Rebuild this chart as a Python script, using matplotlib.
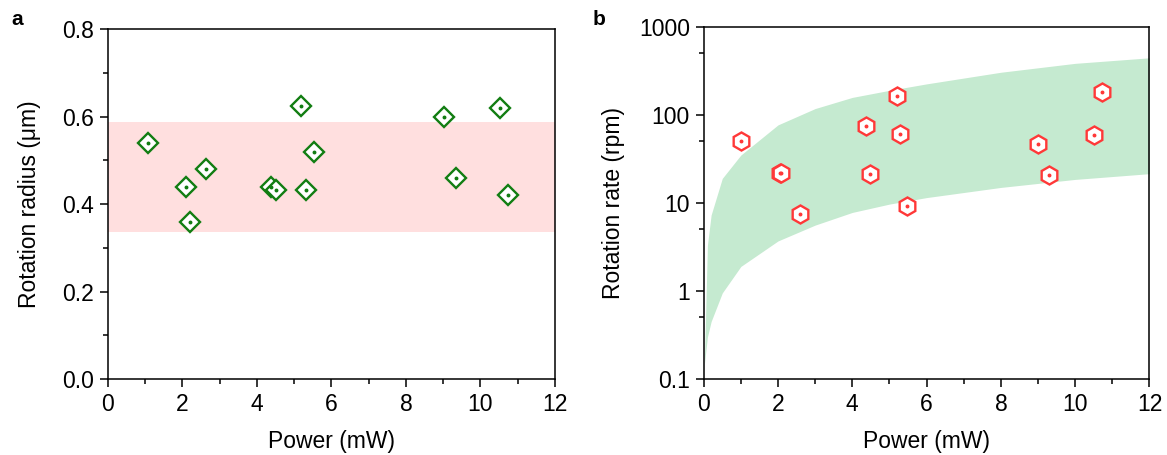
import matplotlib
matplotlib.use("Agg")
import matplotlib.pyplot as plt
from matplotlib.ticker import MultipleLocator, FixedLocator, NullFormatter

plt.rcParams['font.family'] = ['Liberation Sans', 'DejaVu Sans']
plt.rcParams['font.size'] = 16

# panel a data
power_a = [1.07, 2.09, 2.2, 2.63, 4.38, 4.51, 5.18, 5.32, 5.53, 9.02, 9.34, 10.52, 10.74]
radius = [0.54, 0.44, 0.36, 0.48, 0.44, 0.432, 0.625, 0.432, 0.52, 0.60, 0.46, 0.62, 0.42]
radius_band = [0.336, 0.588]

# panel b data
power_b = [1.0, 2.05, 2.09, 2.58, 4.36, 4.47, 5.19, 5.28, 5.48, 9.0, 9.3, 10.51, 10.72]
rate = [51, 22, 22, 7.5, 75, 21.5, 165, 60, 9.2, 47, 21, 59, 183]
band_x = [0.02, 0.1, 0.2, 0.5, 1, 2, 3, 4, 5, 6, 8, 10, 12]
band_hi = [0.16, 3.3, 7.3, 19, 35, 77, 118, 158, 190, 225, 305, 385, 445]
band_lo = [0.15, 0.3, 0.45, 0.95, 1.9, 3.7, 5.6, 7.8, 9.7, 11.5, 15, 18.5, 21.5]

green = '#127d12'
red = '#ff3838'
fs = 16.5

fig = plt.figure(figsize=(11.67, 4.55), dpi=100)
ax1 = fig.add_axes([0.0925, 0.167, 0.383, 0.769])
ax2 = fig.add_axes([0.603, 0.167, 0.382, 0.774])

for ax in (ax1, ax2):
    for s in ax.spines.values():
        s.set_linewidth(1.1)
    ax.tick_params(which='major', direction='out', length=6, width=1.1, labelsize=fs, pad=4)
    ax.tick_params(which='minor', direction='out', length=3.5, width=1.1)
    ax.set_xlim(0, 12)
    ax.xaxis.set_major_locator(MultipleLocator(2))
    ax.xaxis.set_minor_locator(MultipleLocator(1))
    ax.set_xlabel('Power (mW)', fontsize=fs, labelpad=10)

# panel a
ax1.axhspan(radius_band[0], radius_band[1], color='#ffdfdf', lw=0, zorder=0)
ax1.plot(power_a, radius, ls='none', marker='D', ms=10.5, mfc='white', mec=green, mew=1.7)
ax1.plot(power_a, radius, ls='none', marker='o', ms=1.8, mfc=green, mec=green)
ax1.set_ylim(0, 0.8)
ax1.yaxis.set_major_locator(MultipleLocator(0.2))
ax1.yaxis.set_minor_locator(MultipleLocator(0.1))
ax1.yaxis.set_major_formatter(plt.FuncFormatter(lambda v, p: f"{v:.1f}"))
ax1.set_ylabel('Rotation radius (μm)', fontsize=fs, labelpad=15)

# panel b
ax2.fill_between(band_x, band_lo, band_hi, color='#c5ead0', lw=0, zorder=0)
ax2.plot(power_b, rate, ls='none', marker='h', ms=13, mfc='white', mec=red, mew=1.7)
ax2.plot(power_b, rate, ls='none', marker='o', ms=1.8, mfc=red, mec=red)
ax2.set_yscale('log')
ax2.set_ylim(0.1, 1000)
ax2.yaxis.set_major_locator(FixedLocator([0.1, 1, 10, 100, 1000]))
ax2.yaxis.set_major_formatter(plt.FuncFormatter(lambda v, p: f"{v:g}"))
ax2.yaxis.set_minor_locator(FixedLocator([0.5, 5, 50, 500]))
ax2.yaxis.set_minor_formatter(NullFormatter())
ax2.set_ylabel('Rotation rate (rpm)', fontsize=fs, labelpad=10)

fig.text(0.010, 0.945, 'a', fontsize=15, fontweight='bold')
fig.text(0.508, 0.945, 'b', fontsize=15, fontweight='bold')

fig.savefig('out.png', dpi=100)
